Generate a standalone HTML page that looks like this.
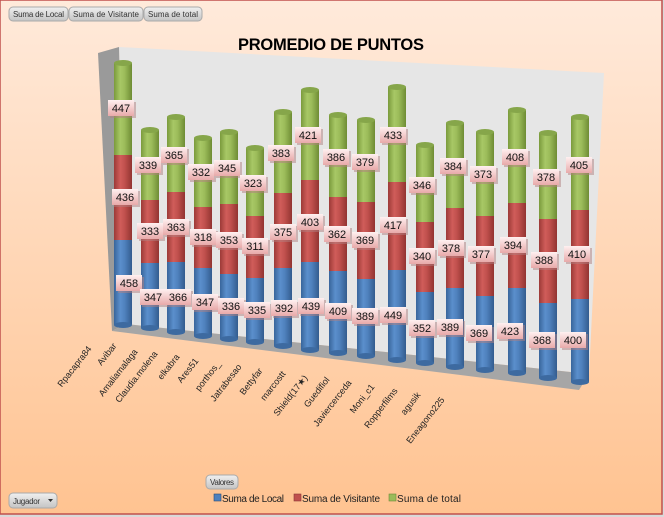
<!DOCTYPE html>
<html><head><meta charset="utf-8"><style>
html,body{margin:0;padding:0;background:#d9d9d9;}
svg{display:block;font-family:"Liberation Sans","DejaVu Sans",sans-serif;}
</style></head><body>
<svg width="664" height="517" viewBox="0 0 664 517" xmlns="http://www.w3.org/2000/svg">
<defs>
<linearGradient id="bg" x1="0" y1="0" x2="0" y2="1"><stop offset="0" stop-color="#ffeadb"/><stop offset="1" stop-color="#ffc391"/></linearGradient>
<linearGradient id="gG" x1="0" x2="1"><stop offset="0" stop-color="#7a9a3c"/><stop offset="0.35" stop-color="#a8c866"/><stop offset="0.6" stop-color="#9bbb59"/><stop offset="1" stop-color="#6e8c34"/></linearGradient>
<linearGradient id="gR" x1="0" x2="1"><stop offset="0" stop-color="#9c3a37"/><stop offset="0.35" stop-color="#d05d5a"/><stop offset="0.6" stop-color="#c0504d"/><stop offset="1" stop-color="#923431"/></linearGradient>
<linearGradient id="gB" x1="0" x2="1"><stop offset="0" stop-color="#38659b"/><stop offset="0.35" stop-color="#5b8fcc"/><stop offset="0.6" stop-color="#4f81bd"/><stop offset="1" stop-color="#335c8e"/></linearGradient>
<linearGradient id="lb" x1="0" y1="0" x2="0" y2="1"><stop offset="0" stop-color="#fff0f0"/><stop offset="1" stop-color="#e8aaaa"/></linearGradient>
<linearGradient id="btn" x1="0" y1="0" x2="0" y2="1"><stop offset="0" stop-color="#f0f0f0"/><stop offset="1" stop-color="#c4c4c4"/></linearGradient>
</defs>
<rect x="0" y="0" width="662" height="514" fill="url(#bg)" stroke="#c0504d" stroke-width="1.5"/>

<!-- buttons -->
<g font-size="8" fill="#333">
<rect x="9" y="7" width="59" height="14" rx="4" fill="url(#btn)" stroke="#aaa"/><text x="13" y="17" textLength="51">Suma de Local</text>
<rect x="69" y="7" width="74" height="14" rx="4" fill="url(#btn)" stroke="#aaa"/><text x="73" y="17" textLength="66">Suma de Visitante</text>
<rect x="144" y="7" width="58" height="14" rx="4" fill="url(#btn)" stroke="#aaa"/><text x="148" y="17" textLength="50">Suma de total</text>
<rect x="206" y="475" width="32" height="14" rx="4" fill="url(#btn)" stroke="#aaa"/><text x="210" y="485" textLength="24">Valores</text>
<rect x="9" y="493" width="48" height="15" rx="4" fill="url(#btn)" stroke="#aaa"/><text x="13" y="504" textLength="27">Jugador</text>
<path d="M48 499 l5 0 l-2.5 3z" fill="#333"/>
</g>

<text x="331" y="50" font-size="16.5" font-weight="bold" text-anchor="middle" fill="#000" textLength="186">PROMEDIO DE PUNTOS</text>

<!-- walls -->
<polygon points="119,47 604,73 589,374 126,324" fill="#e6e6e6"/>
<polygon points="98,53 119,47 126,324 112,331" fill="#9a9a9a"/>
<polygon points="112,331 126,324 589,374 579,390" fill="#a6a6a6"/>

<!-- bars -->
<g>
<g transform="translate(123,0)"><rect x="-9" y="240" width="18" height="85" fill="url(#gB)"/><ellipse cx="0" cy="325" rx="9" ry="3" fill="#3d6aa0"/><rect x="-9" y="155" width="18" height="85" fill="url(#gR)"/><rect x="-9" y="63" width="18" height="92" fill="url(#gG)"/><ellipse cx="0" cy="63" rx="9" ry="3" fill="#86a64a"/></g>
<g transform="translate(150,0)"><rect x="-9" y="263" width="18" height="65" fill="url(#gB)"/><ellipse cx="0" cy="328" rx="9" ry="3" fill="#3d6aa0"/><rect x="-9" y="200" width="18" height="63" fill="url(#gR)"/><rect x="-9" y="130" width="18" height="70" fill="url(#gG)"/><ellipse cx="0" cy="130" rx="9" ry="3" fill="#86a64a"/></g>
<g transform="translate(176,0)"><rect x="-9" y="262" width="18" height="70" fill="url(#gB)"/><ellipse cx="0" cy="332" rx="9" ry="3" fill="#3d6aa0"/><rect x="-9" y="192" width="18" height="70" fill="url(#gR)"/><rect x="-9" y="117" width="18" height="75" fill="url(#gG)"/><ellipse cx="0" cy="117" rx="9" ry="3" fill="#86a64a"/></g>
<g transform="translate(203,0)"><rect x="-9" y="268" width="18" height="68" fill="url(#gB)"/><ellipse cx="0" cy="336" rx="9" ry="3" fill="#3d6aa0"/><rect x="-9" y="207" width="18" height="61" fill="url(#gR)"/><rect x="-9" y="138" width="18" height="69" fill="url(#gG)"/><ellipse cx="0" cy="138" rx="9" ry="3" fill="#86a64a"/></g>
<g transform="translate(229,0)"><rect x="-9" y="274" width="18" height="65" fill="url(#gB)"/><ellipse cx="0" cy="339" rx="9" ry="3" fill="#3d6aa0"/><rect x="-9" y="204" width="18" height="70" fill="url(#gR)"/><rect x="-9" y="132" width="18" height="72" fill="url(#gG)"/><ellipse cx="0" cy="132" rx="9" ry="3" fill="#86a64a"/></g>
<g transform="translate(255,0)"><rect x="-9" y="278" width="18" height="64" fill="url(#gB)"/><ellipse cx="0" cy="342" rx="9" ry="3" fill="#3d6aa0"/><rect x="-9" y="216" width="18" height="62" fill="url(#gR)"/><rect x="-9" y="148" width="18" height="68" fill="url(#gG)"/><ellipse cx="0" cy="148" rx="9" ry="3" fill="#86a64a"/></g>
<g transform="translate(283,0)"><rect x="-9" y="268" width="18" height="78" fill="url(#gB)"/><ellipse cx="0" cy="346" rx="9" ry="3" fill="#3d6aa0"/><rect x="-9" y="193" width="18" height="75" fill="url(#gR)"/><rect x="-9" y="112" width="18" height="81" fill="url(#gG)"/><ellipse cx="0" cy="112" rx="9" ry="3" fill="#86a64a"/></g>
<g transform="translate(310,0)"><rect x="-9" y="262" width="18" height="88" fill="url(#gB)"/><ellipse cx="0" cy="350" rx="9" ry="3" fill="#3d6aa0"/><rect x="-9" y="180" width="18" height="82" fill="url(#gR)"/><rect x="-9" y="90" width="18" height="90" fill="url(#gG)"/><ellipse cx="0" cy="90" rx="9" ry="3" fill="#86a64a"/></g>
<g transform="translate(338,0)"><rect x="-9" y="271" width="18" height="82" fill="url(#gB)"/><ellipse cx="0" cy="353" rx="9" ry="3" fill="#3d6aa0"/><rect x="-9" y="197" width="18" height="74" fill="url(#gR)"/><rect x="-9" y="115" width="18" height="82" fill="url(#gG)"/><ellipse cx="0" cy="115" rx="9" ry="3" fill="#86a64a"/></g>
<g transform="translate(366,0)"><rect x="-9" y="279" width="18" height="77" fill="url(#gB)"/><ellipse cx="0" cy="356" rx="9" ry="3" fill="#3d6aa0"/><rect x="-9" y="202" width="18" height="77" fill="url(#gR)"/><rect x="-9" y="120" width="18" height="82" fill="url(#gG)"/><ellipse cx="0" cy="120" rx="9" ry="3" fill="#86a64a"/></g>
<g transform="translate(397,0)"><rect x="-9" y="270" width="18" height="90" fill="url(#gB)"/><ellipse cx="0" cy="360" rx="9" ry="3" fill="#3d6aa0"/><rect x="-9" y="182" width="18" height="88" fill="url(#gR)"/><rect x="-9" y="87" width="18" height="95" fill="url(#gG)"/><ellipse cx="0" cy="87" rx="9" ry="3" fill="#86a64a"/></g>
<g transform="translate(425,0)"><rect x="-9" y="292" width="18" height="71" fill="url(#gB)"/><ellipse cx="0" cy="363" rx="9" ry="3" fill="#3d6aa0"/><rect x="-9" y="222" width="18" height="70" fill="url(#gR)"/><rect x="-9" y="145" width="18" height="77" fill="url(#gG)"/><ellipse cx="0" cy="145" rx="9" ry="3" fill="#86a64a"/></g>
<g transform="translate(455,0)"><rect x="-9" y="288" width="18" height="79" fill="url(#gB)"/><ellipse cx="0" cy="367" rx="9" ry="3" fill="#3d6aa0"/><rect x="-9" y="208" width="18" height="80" fill="url(#gR)"/><rect x="-9" y="123" width="18" height="85" fill="url(#gG)"/><ellipse cx="0" cy="123" rx="9" ry="3" fill="#86a64a"/></g>
<g transform="translate(485,0)"><rect x="-9" y="296" width="18" height="74" fill="url(#gB)"/><ellipse cx="0" cy="370" rx="9" ry="3" fill="#3d6aa0"/><rect x="-9" y="216" width="18" height="80" fill="url(#gR)"/><rect x="-9" y="132" width="18" height="84" fill="url(#gG)"/><ellipse cx="0" cy="132" rx="9" ry="3" fill="#86a64a"/></g>
<g transform="translate(517,0)"><rect x="-9" y="288" width="18" height="85" fill="url(#gB)"/><ellipse cx="0" cy="373" rx="9" ry="3" fill="#3d6aa0"/><rect x="-9" y="203" width="18" height="85" fill="url(#gR)"/><rect x="-9" y="110" width="18" height="93" fill="url(#gG)"/><ellipse cx="0" cy="110" rx="9" ry="3" fill="#86a64a"/></g>
<g transform="translate(548,0)"><rect x="-9" y="303" width="18" height="75" fill="url(#gB)"/><ellipse cx="0" cy="378" rx="9" ry="3" fill="#3d6aa0"/><rect x="-9" y="219" width="18" height="84" fill="url(#gR)"/><rect x="-9" y="133" width="18" height="86" fill="url(#gG)"/><ellipse cx="0" cy="133" rx="9" ry="3" fill="#86a64a"/></g>
<g transform="translate(580,0)"><rect x="-9" y="299" width="18" height="83" fill="url(#gB)"/><ellipse cx="0" cy="382" rx="9" ry="3" fill="#3d6aa0"/><rect x="-9" y="210" width="18" height="89" fill="url(#gR)"/><rect x="-9" y="117" width="18" height="93" fill="url(#gG)"/><ellipse cx="0" cy="117" rx="9" ry="3" fill="#86a64a"/></g>
</g>

<!-- data labels -->
<g font-size="11" text-anchor="middle" fill="#111">
<g><rect x="108" y="100" width="26" height="16" fill="#b08080" opacity="0.5" transform="translate(2,2)"/><rect x="108" y="100" width="26" height="16" fill="url(#lb)"/><text x="121" y="112">447</text></g>
<g><rect x="112" y="189" width="26" height="16" fill="#b08080" opacity="0.5" transform="translate(2,2)"/><rect x="112" y="189" width="26" height="16" fill="url(#lb)"/><text x="125" y="201">436</text></g>
<g><rect x="116" y="275" width="26" height="16" fill="#b08080" opacity="0.5" transform="translate(2,2)"/><rect x="116" y="275" width="26" height="16" fill="url(#lb)"/><text x="129" y="287">458</text></g>

<g><rect x="135" y="157" width="26" height="16" fill="#b08080" opacity="0.5" transform="translate(2,2)"/><rect x="135" y="157" width="26" height="16" fill="url(#lb)"/><text x="148" y="169">339</text></g>
<g><rect x="137" y="223" width="26" height="16" fill="#b08080" opacity="0.5" transform="translate(2,2)"/><rect x="137" y="223" width="26" height="16" fill="url(#lb)"/><text x="150" y="235">333</text></g>
<g><rect x="140" y="289" width="26" height="16" fill="#b08080" opacity="0.5" transform="translate(2,2)"/><rect x="140" y="289" width="26" height="16" fill="url(#lb)"/><text x="153" y="301">347</text></g>

<g><rect x="161" y="147" width="26" height="16" fill="#b08080" opacity="0.5" transform="translate(2,2)"/><rect x="161" y="147" width="26" height="16" fill="url(#lb)"/><text x="174" y="159">365</text></g>
<g><rect x="163" y="219" width="26" height="16" fill="#b08080" opacity="0.5" transform="translate(2,2)"/><rect x="163" y="219" width="26" height="16" fill="url(#lb)"/><text x="176" y="231">363</text></g>
<g><rect x="165" y="289" width="26" height="16" fill="#b08080" opacity="0.5" transform="translate(2,2)"/><rect x="165" y="289" width="26" height="16" fill="url(#lb)"/><text x="178" y="301">366</text></g>

<g><rect x="188" y="164" width="26" height="16" fill="#b08080" opacity="0.5" transform="translate(2,2)"/><rect x="188" y="164" width="26" height="16" fill="url(#lb)"/><text x="201" y="176">332</text></g>
<g><rect x="190" y="229" width="26" height="16" fill="#b08080" opacity="0.5" transform="translate(2,2)"/><rect x="190" y="229" width="26" height="16" fill="url(#lb)"/><text x="203" y="241">318</text></g>
<g><rect x="192" y="294" width="26" height="16" fill="#b08080" opacity="0.5" transform="translate(2,2)"/><rect x="192" y="294" width="26" height="16" fill="url(#lb)"/><text x="205" y="306">347</text></g>

<g><rect x="214" y="160" width="26" height="16" fill="#b08080" opacity="0.5" transform="translate(2,2)"/><rect x="214" y="160" width="26" height="16" fill="url(#lb)"/><text x="227" y="172">345</text></g>
<g><rect x="216" y="232" width="26" height="16" fill="#b08080" opacity="0.5" transform="translate(2,2)"/><rect x="216" y="232" width="26" height="16" fill="url(#lb)"/><text x="229" y="244">353</text></g>
<g><rect x="218" y="298" width="26" height="16" fill="#b08080" opacity="0.5" transform="translate(2,2)"/><rect x="218" y="298" width="26" height="16" fill="url(#lb)"/><text x="231" y="310">336</text></g>

<g><rect x="240" y="175" width="26" height="16" fill="#b08080" opacity="0.5" transform="translate(2,2)"/><rect x="240" y="175" width="26" height="16" fill="url(#lb)"/><text x="253" y="187">323</text></g>
<g><rect x="242" y="238" width="26" height="16" fill="#b08080" opacity="0.5" transform="translate(2,2)"/><rect x="242" y="238" width="26" height="16" fill="url(#lb)"/><text x="255" y="250">311</text></g>
<g><rect x="244" y="302" width="26" height="16" fill="#b08080" opacity="0.5" transform="translate(2,2)"/><rect x="244" y="302" width="26" height="16" fill="url(#lb)"/><text x="257" y="314">335</text></g>

<g><rect x="268" y="145" width="26" height="16" fill="#b08080" opacity="0.5" transform="translate(2,2)"/><rect x="268" y="145" width="26" height="16" fill="url(#lb)"/><text x="281" y="157">383</text></g>
<g><rect x="270" y="224" width="26" height="16" fill="#b08080" opacity="0.5" transform="translate(2,2)"/><rect x="270" y="224" width="26" height="16" fill="url(#lb)"/><text x="283" y="236">375</text></g>
<g><rect x="271" y="300" width="26" height="16" fill="#b08080" opacity="0.5" transform="translate(2,2)"/><rect x="271" y="300" width="26" height="16" fill="url(#lb)"/><text x="284" y="312">392</text></g>

<g><rect x="295" y="127" width="26" height="16" fill="#b08080" opacity="0.5" transform="translate(2,2)"/><rect x="295" y="127" width="26" height="16" fill="url(#lb)"/><text x="308" y="139">421</text></g>
<g><rect x="297" y="214" width="26" height="16" fill="#b08080" opacity="0.5" transform="translate(2,2)"/><rect x="297" y="214" width="26" height="16" fill="url(#lb)"/><text x="310" y="226">403</text></g>
<g><rect x="298" y="298" width="26" height="16" fill="#b08080" opacity="0.5" transform="translate(2,2)"/><rect x="298" y="298" width="26" height="16" fill="url(#lb)"/><text x="311" y="310">439</text></g>

<g><rect x="323" y="149" width="26" height="16" fill="#b08080" opacity="0.5" transform="translate(2,2)"/><rect x="323" y="149" width="26" height="16" fill="url(#lb)"/><text x="336" y="161">386</text></g>
<g><rect x="324" y="226" width="26" height="16" fill="#b08080" opacity="0.5" transform="translate(2,2)"/><rect x="324" y="226" width="26" height="16" fill="url(#lb)"/><text x="337" y="238">362</text></g>
<g><rect x="325" y="303" width="26" height="16" fill="#b08080" opacity="0.5" transform="translate(2,2)"/><rect x="325" y="303" width="26" height="16" fill="url(#lb)"/><text x="338" y="315">409</text></g>

<g><rect x="352" y="154" width="26" height="16" fill="#b08080" opacity="0.5" transform="translate(2,2)"/><rect x="352" y="154" width="26" height="16" fill="url(#lb)"/><text x="365" y="166">379</text></g>
<g><rect x="352" y="232" width="26" height="16" fill="#b08080" opacity="0.5" transform="translate(2,2)"/><rect x="352" y="232" width="26" height="16" fill="url(#lb)"/><text x="365" y="244">369</text></g>
<g><rect x="352" y="308" width="26" height="16" fill="#b08080" opacity="0.5" transform="translate(2,2)"/><rect x="352" y="308" width="26" height="16" fill="url(#lb)"/><text x="365" y="320">389</text></g>

<g><rect x="380" y="127" width="26" height="16" fill="#b08080" opacity="0.5" transform="translate(2,2)"/><rect x="380" y="127" width="26" height="16" fill="url(#lb)"/><text x="393" y="139">433</text></g>
<g><rect x="380" y="217" width="26" height="16" fill="#b08080" opacity="0.5" transform="translate(2,2)"/><rect x="380" y="217" width="26" height="16" fill="url(#lb)"/><text x="393" y="229">417</text></g>
<g><rect x="380" y="307" width="26" height="16" fill="#b08080" opacity="0.5" transform="translate(2,2)"/><rect x="380" y="307" width="26" height="16" fill="url(#lb)"/><text x="393" y="319">449</text></g>

<g><rect x="409" y="177" width="26" height="16" fill="#b08080" opacity="0.5" transform="translate(2,2)"/><rect x="409" y="177" width="26" height="16" fill="url(#lb)"/><text x="422" y="189">346</text></g>
<g><rect x="409" y="248" width="26" height="16" fill="#b08080" opacity="0.5" transform="translate(2,2)"/><rect x="409" y="248" width="26" height="16" fill="url(#lb)"/><text x="422" y="260">340</text></g>
<g><rect x="409" y="320" width="26" height="16" fill="#b08080" opacity="0.5" transform="translate(2,2)"/><rect x="409" y="320" width="26" height="16" fill="url(#lb)"/><text x="422" y="332">352</text></g>

<g><rect x="440" y="158" width="26" height="16" fill="#b08080" opacity="0.5" transform="translate(2,2)"/><rect x="440" y="158" width="26" height="16" fill="url(#lb)"/><text x="453" y="170">384</text></g>
<g><rect x="438" y="240" width="26" height="16" fill="#b08080" opacity="0.5" transform="translate(2,2)"/><rect x="438" y="240" width="26" height="16" fill="url(#lb)"/><text x="451" y="252">378</text></g>
<g><rect x="437" y="319" width="26" height="16" fill="#b08080" opacity="0.5" transform="translate(2,2)"/><rect x="437" y="319" width="26" height="16" fill="url(#lb)"/><text x="450" y="331">389</text></g>

<g><rect x="470" y="166" width="26" height="16" fill="#b08080" opacity="0.5" transform="translate(2,2)"/><rect x="470" y="166" width="26" height="16" fill="url(#lb)"/><text x="483" y="178">373</text></g>
<g><rect x="468" y="246" width="26" height="16" fill="#b08080" opacity="0.5" transform="translate(2,2)"/><rect x="468" y="246" width="26" height="16" fill="url(#lb)"/><text x="481" y="258">377</text></g>
<g><rect x="466" y="325" width="26" height="16" fill="#b08080" opacity="0.5" transform="translate(2,2)"/><rect x="466" y="325" width="26" height="16" fill="url(#lb)"/><text x="479" y="337">369</text></g>

<g><rect x="502" y="149" width="26" height="16" fill="#b08080" opacity="0.5" transform="translate(2,2)"/><rect x="502" y="149" width="26" height="16" fill="url(#lb)"/><text x="515" y="161">408</text></g>
<g><rect x="500" y="237" width="26" height="16" fill="#b08080" opacity="0.5" transform="translate(2,2)"/><rect x="500" y="237" width="26" height="16" fill="url(#lb)"/><text x="513" y="249">394</text></g>
<g><rect x="497" y="323" width="26" height="16" fill="#b08080" opacity="0.5" transform="translate(2,2)"/><rect x="497" y="323" width="26" height="16" fill="url(#lb)"/><text x="510" y="335">423</text></g>

<g><rect x="533" y="169" width="26" height="16" fill="#b08080" opacity="0.5" transform="translate(2,2)"/><rect x="533" y="169" width="26" height="16" fill="url(#lb)"/><text x="546" y="181">378</text></g>
<g><rect x="531" y="252" width="26" height="16" fill="#b08080" opacity="0.5" transform="translate(2,2)"/><rect x="531" y="252" width="26" height="16" fill="url(#lb)"/><text x="544" y="264">388</text></g>
<g><rect x="529" y="332" width="26" height="16" fill="#b08080" opacity="0.5" transform="translate(2,2)"/><rect x="529" y="332" width="26" height="16" fill="url(#lb)"/><text x="542" y="344">368</text></g>

<g><rect x="566" y="157" width="26" height="16" fill="#b08080" opacity="0.5" transform="translate(2,2)"/><rect x="566" y="157" width="26" height="16" fill="url(#lb)"/><text x="579" y="169">405</text></g>
<g><rect x="564" y="246" width="26" height="16" fill="#b08080" opacity="0.5" transform="translate(2,2)"/><rect x="564" y="246" width="26" height="16" fill="url(#lb)"/><text x="577" y="258">410</text></g>
<g><rect x="560" y="332" width="26" height="16" fill="#b08080" opacity="0.5" transform="translate(2,2)"/><rect x="560" y="332" width="26" height="16" fill="url(#lb)"/><text x="573" y="344">400</text></g>
</g>

<!-- category labels -->
<g font-size="9" text-anchor="end" fill="#222">
<text transform="translate(92,349) rotate(-52)">Rpacapra84</text>
<text transform="translate(117,346) rotate(-52)">Avibar</text>
<text transform="translate(138,352) rotate(-52)">Amaliamalaga</text>
<text transform="translate(158,354) rotate(-52)">Claudia.molena</text>
<text transform="translate(180,357) rotate(-52)">elkabra</text>
<text transform="translate(199,361) rotate(-52)">Ares51</text>
<text transform="translate(221,364) rotate(-52)">porthos_</text>
<text transform="translate(242,367) rotate(-52)">Jatrabesao</text>
<text transform="translate(263,371) rotate(-52)">Bettyfar</text>
<text transform="translate(286,374) rotate(-52)">marcostt</text>
<text transform="translate(308,378) rotate(-52)">Shield(17★)</text>
<text transform="translate(330,380) rotate(-52)">Guedifiol</text>
<text transform="translate(352,383) rotate(-52)">Javiercerceda</text>
<text transform="translate(375,387) rotate(-52)">Moni_c1</text>
<text transform="translate(398,391) rotate(-52)">Ropperfilms</text>
<text transform="translate(421,395) rotate(-52)">agusik</text>
<text transform="translate(445,400) rotate(-52)">Eneagono225</text>
</g>

<!-- legend -->
<g font-size="10" fill="#222">
<rect x="214" y="494" width="7" height="7" fill="#4f81bd" stroke="#2c4d75" stroke-width="0.6"/><text x="222" y="502" textLength="62">Suma de Local</text>
<rect x="294" y="494" width="7" height="7" fill="#c0504d" stroke="#8c3836" stroke-width="0.6"/><text x="302" y="502" textLength="78">Suma de Visitante</text>
<rect x="389" y="494" width="7" height="7" fill="#9bbb59" stroke="#6e8a3a" stroke-width="0.6"/><text x="397" y="502" textLength="64">Suma de total</text>
</g>
</svg>
</body></html>
